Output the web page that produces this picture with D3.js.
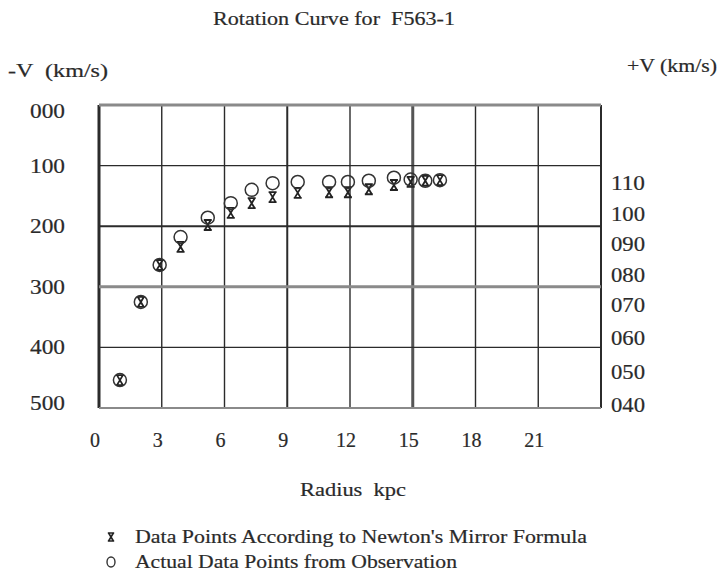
<!DOCTYPE html>
<html>
<head>
<meta charset="utf-8">
<script src="https://cdn.jsdelivr.net/npm/d3@7"></script>
<style>
    body { margin: 0; background: #fff; }
    svg text { stroke: #2a2a2a; stroke-width: 0.2px; }
</style>
</head>
<body>
<div id="chart"></div>
<script>
/*  *********************************************
    DATA
    ********************************************* */

// Radius of each measured point (kpc)
var radius = [1.0, 2.0, 2.9, 3.9, 5.2, 6.3, 7.3, 8.3, 9.5, 11.0, 11.9, 12.9, 14.1, 14.9, 15.6, 16.3];

// Observed velocity, plotted on the -V scale
var observed = [454, 325, 264, 218, 186, 162, 140, 129, 127, 127, 127, 125, 120, 123, 125, 124];

// Velocity from Newton's mirror formula
var newton = [454, 325, 264, 234, 198, 178, 162, 152, 145, 144, 144, 139, 132, 127, 125, 124];

// Tick labels
var xTicks = [0, 3, 6, 9, 12, 15, 18, 21];
var leftTicks = ["000", "100", "200", "300", "400", "500"];
var rightTicks = ["110", "100", "090", "080", "070", "060", "050", "040"];

var legendLabels = ["Data Points According to Newton's Mirror Formula",
                    "Actual Data Points from Observation"];

/*  *********************************************
    CREATE THE SVG AND CONFIGURE IT FOR THE CHART
    ********************************************* */

var svgWidth = 718;
var svgHeight = 582;

var plot = { left: 99, right: 601, top: 105, bottom: 408 };

var svg = d3.select("#chart")
    .append("svg")
    .attr("width", svgWidth)
    .attr("height", svgHeight)
    .attr("font-family", "'Liberation Serif', 'Times New Roman', 'DejaVu Serif', serif")
    .attr("fill", "#2a2a2a");

// Scales
var xScale = d3.scaleLinear().domain([0, 24]).range([plot.left, plot.right]);
var yScale = d3.scaleLinear().domain([0, 500]).range([plot.top, plot.bottom]);
// right axis is not evenly spaced in the original
var yRight = d3.scaleLinear().domain([40, 70, 110]).range([405, 305, 183]);

/*  **************************
    GRID
    ************************** */

var grid = svg.append("g");

grid.selectAll(".vline")
    .data(d3.range(0, 25, 3))
    .enter()
    .append("line")
    .attr("x1", d => xScale(d))
    .attr("x2", d => xScale(d))
    .attr("y1", plot.top)
    .attr("y2", plot.bottom)
    .attr("stroke", d => d == 15 ? "#555" : "#2b2b2b")
    .attr("stroke-width", d => (d == 0 || d == 15) ? 3 : (d == 24 || d == 9) ? 2 : 1.4);

grid.selectAll(".hline")
    .data(d3.range(0, 501, 100))
    .enter()
    .append("line")
    .attr("x1", plot.left)
    .attr("x2", plot.right)
    .attr("y1", d => yScale(d))
    .attr("y2", d => yScale(d))
    .attr("stroke", d => (d == 0 || d == 300 || d == 500) ? "#8a8a8a" : "#2b2b2b")
    .attr("stroke-width", d => (d == 0 || d == 300) ? 3 : (d == 200 || d == 500) ? 2 : 1.4);

/*  **************************
    AXIS LABELS AND TITLE
    ************************** */

// helper: stretched serif text like the scanned original
function label(x, y, size, len, str) {
    return svg.append("text")
        .attr("x", x).attr("y", y)
        .attr("font-size", size)
        .attr("textLength", len)
        .attr("lengthAdjust", "spacingAndGlyphs")
        .style("white-space", "pre")
        .text(str);
}

label(213, 25, 19, 242, "Rotation Curve for  F563-1");
label(8, 77, 19, 100, "-V  (km/s)");
label(627, 72, 19, 90, "+V (km/s)");
label(300, 496, 19, 106, "Radius  kpc");

// left ticks (first and last pulled inside the frame)
svg.selectAll(".leftTick")
    .data(leftTicks)
    .enter()
    .append("text")
    .attr("font-size", 20)
    .attr("x", 30)
    .attr("y", d => Math.min(Math.max(yScale(+d), 111), 403) + 7)
    .attr("textLength", 35)
    .attr("lengthAdjust", "spacingAndGlyphs")
    .text(d => d);

svg.selectAll(".rightTick")
    .data(rightTicks)
    .enter()
    .append("text")
    .attr("font-size", 20)
    .attr("x", 611)
    .attr("y", d => yRight(+d) + 7)
    .attr("textLength", 34)
    .attr("lengthAdjust", "spacingAndGlyphs")
    .text(d => d);

svg.selectAll(".xTick")
    .data(xTicks)
    .enter()
    .append("text")
    .attr("text-anchor", "middle")
    .attr("font-size", 20)
    .attr("x", d => xScale(d) - 4)
    .attr("y", 447)
    .text(d => d);

/*  **************************
    PLOT THE DATA ON THE CHART
    ************************** */

// hourglass shaped "x" like the serif glyph in the original
var crossSymbol = {
    draw: function(context, size) {
        var w = 4, h = 5;
        context.moveTo(-w, -h); context.lineTo(w, -h);
        context.moveTo(-w, h); context.lineTo(w, h);
        context.moveTo(-w + 1, -h); context.lineTo(w - 1, h);
        context.moveTo(w - 1, -h); context.lineTo(-w + 1, h);
    }
};

var points = radius.map((r, i) => ({ r: r, obs: observed[i], calc: newton[i] }));

svg.selectAll(".calc")
    .data(points)
    .enter()
    .append("path")
    .attr("d", d3.symbol().type(crossSymbol))
    .attr("transform", d => `translate(${xScale(d.r)}, ${yScale(d.calc)})`)
    .attr("fill", "none")
    .attr("stroke", "#222")
    .attr("stroke-width", 1.8);

svg.selectAll(".obs")
    .data(points)
    .enter()
    .append("circle")
    .attr("cx", d => xScale(d.r))
    .attr("cy", d => yScale(d.obs))
    .attr("r", 6.5)
    .attr("fill", "none")
    .attr("stroke", "#333")
    .attr("stroke-width", 1.5);

/*  **************************
    LEGEND
    ************************** */

svg.append("path")
    .attr("d", d3.symbol().type(crossSymbol))
    .attr("transform", "translate(111, 537) scale(0.8)")
    .attr("fill", "none")
    .attr("stroke", "#222")
    .attr("stroke-width", 2);

svg.append("ellipse")
    .attr("cx", 111).attr("cy", 562)
    .attr("rx", 4).attr("ry", 5)
    .attr("fill", "none")
    .attr("stroke", "#333")
    .attr("stroke-width", 1.4);

svg.selectAll(".legendText")
    .data(legendLabels)
    .enter()
    .append("text")
    .attr("x", 135)
    .attr("y", (d, i) => 543 + i * 25)
    .attr("font-size", 19)
    .attr("textLength", (d, i) => i == 0 ? 452 : 322)
    .attr("lengthAdjust", "spacingAndGlyphs")
    .text(d => d);
</script>
</body>
</html>
